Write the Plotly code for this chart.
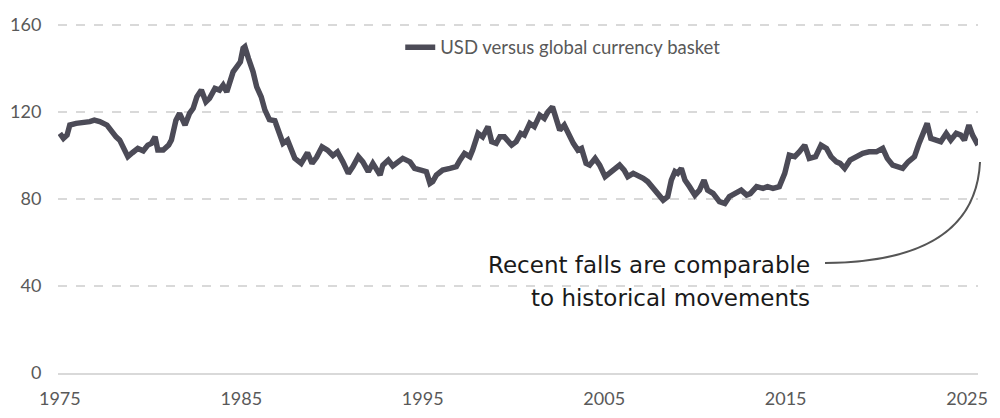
# USD broad index chart

import plotly.graph_objects as go

years = [
    1975.0, 1975.2, 1975.4, 1975.55, 1975.9, 1976.3, 1976.65, 1976.9, 1977.2, 1977.6,
    1977.85, 1978.1, 1978.3, 1978.6, 1978.75, 1979.0, 1979.3, 1979.6, 1979.85, 1980.05,
    1980.25, 1980.4, 1980.7, 1981.0, 1981.15, 1981.4, 1981.6, 1981.9, 1982.15, 1982.35,
    1982.55, 1982.8, 1983.05, 1983.25, 1983.55, 1983.8, 1984.0, 1984.2, 1984.35, 1984.55,
    1984.75, 1984.95, 1985.1, 1985.2, 1985.4, 1985.65, 1985.85, 1986.1, 1986.3, 1986.55,
    1986.85, 1987.05, 1987.3, 1987.55, 1987.75, 1987.95, 1988.3, 1988.65, 1988.9, 1989.15,
    1989.45, 1989.75, 1990.05, 1990.3, 1990.6, 1990.9, 1991.15, 1991.45, 1991.7, 1992.0,
    1992.25, 1992.65, 1992.8, 1993.1, 1993.35, 1993.65, 1993.9, 1994.3, 1994.55, 1994.9,
    1995.2, 1995.4, 1995.55, 1995.75, 1996.1, 1996.5, 1996.85, 1997.05, 1997.3, 1997.6,
    1997.75, 1998.05, 1998.3, 1998.6, 1998.8, 1999.05, 1999.25, 1999.5, 1999.9, 2000.15,
    2000.4, 2000.6, 2000.9, 2001.15, 2001.45, 2001.7, 2001.9, 2002.15, 2002.35, 2002.55,
    2002.8, 2003.1, 2003.3, 2003.55, 2003.75, 2004.0, 2004.2, 2004.5, 2004.75, 2005.05,
    2005.3, 2005.6, 2005.85, 2006.1, 2006.3, 2006.6, 2006.85, 2007.15, 2007.4, 2007.7,
    2007.95, 2008.25, 2008.5, 2008.7, 2008.9, 2009.05, 2009.25, 2009.45, 2009.7, 2010.0,
    2010.25, 2010.5, 2010.7, 2011.0, 2011.35, 2011.65, 2011.9, 2012.2, 2012.55, 2012.85,
    2013.05, 2013.4, 2013.75, 2014.0, 2014.3, 2014.65, 2014.95, 2015.2, 2015.5, 2015.75,
    2016.05, 2016.3, 2016.65, 2016.95, 2017.25, 2017.5, 2017.8, 2018.0, 2018.25, 2018.55,
    2018.9, 2019.25, 2019.6, 2020.0, 2020.35, 2020.6, 2020.9, 2021.2, 2021.45, 2021.75,
    2022.1, 2022.35, 2022.65, 2022.8, 2023.0, 2023.3, 2023.55, 2023.85, 2024.1, 2024.4,
    2024.65, 2024.85, 2025.1, 2025.3, 2025.6,
]

usd_index = [
    110.2, 107.9, 109.4, 114.0, 114.8, 115.1, 115.6, 116.3, 115.6, 114.0,
    110.9, 108.6, 107.1, 102.5, 99.5, 101.3, 103.3, 102.2, 104.8, 105.6,
    108.6, 102.5, 102.5, 104.8, 107.1, 116.3, 119.4, 114.0, 119.4, 121.7,
    127.0, 130.1, 124.7, 126.3, 130.9, 130.1, 132.4, 129.3, 133.9, 138.5,
    140.8, 143.1, 149.3, 150.0, 144.6, 138.5, 131.6, 127.0, 121.0, 116.5,
    116.0, 110.5, 105.6, 107.1, 103.0, 98.7, 96.4, 101.3, 96.4, 99.2,
    104.0, 102.5, 100.0, 101.7, 97.1, 91.8, 94.9, 99.5, 97.1, 92.6,
    96.4, 91.0, 95.6, 97.9, 95.2, 97.1, 98.7, 97.1, 94.1, 93.3,
    92.6, 87.2, 88.0, 91.0, 93.3, 94.1, 94.9, 97.9, 101.0, 99.5,
    102.5, 110.2, 108.6, 113.3, 106.4, 105.6, 108.6, 108.6, 104.8, 106.4,
    110.2, 109.4, 114.8, 113.3, 118.6, 117.1, 120.1, 122.4, 117.1, 111.7,
    114.0, 108.6, 105.6, 102.5, 103.3, 96.4, 95.6, 98.7, 95.6, 90.3,
    91.8, 94.1, 95.6, 93.3, 90.3, 91.8, 91.0, 89.5, 88.0, 84.9,
    81.8, 79.5, 81.1, 88.7, 92.6, 91.8, 94.1, 88.7, 85.7, 81.8,
    84.1, 88.7, 84.1, 82.6, 78.8, 78.0, 81.1, 82.6, 84.1, 81.8,
    82.5, 85.7, 84.9, 85.7, 84.9, 85.7, 91.8, 100.2, 99.5, 101.7,
    104.8, 98.7, 99.5, 104.8, 103.3, 99.5, 97.1, 96.4, 94.1, 97.9,
    99.5, 101.0, 101.7, 101.7, 103.3, 98.7, 95.6, 94.9, 94.1, 97.1,
    99.5, 105.6, 110.9, 114.8, 107.9, 107.1, 106.4, 110.2, 107.1, 110.2,
    109.4, 107.1, 114.0, 109.4, 104.8,
]

x_ticks = [1975, 1985, 1995, 2005, 2015, 2025]
y_ticks = [0, 40, 80, 120, 160]

line_color = '#4c4b57'
grid_color = '#d9d9d9'
tick_font = dict(family='Lato', size=18, color='#595959')

fig = go.Figure()
fig.add_trace(go.Scatter(
    x=years,
    y=usd_index,
    mode='lines',
    name='USD versus global currency basket',
    line=dict(color=line_color, width=5.5),
))

# page body keeps an 8px margin, so the figure is 16px smaller than the window
fig.update_layout(
    width=984,
    height=402,
    margin=dict(l=50, r=14, t=16, b=37),
    plot_bgcolor='white',
    paper_bgcolor='white',
    showlegend=True,
    legend=dict(
        x=0.372, y=0.932, xanchor='left', yanchor='middle',
        font=dict(family='Lato', size=18.5, color='#595959'),
        bgcolor='rgba(0,0,0,0)',
    ),
)

fig.update_xaxes(
    range=[1974.9, 2025.6],
    tickvals=x_ticks,
    showgrid=False,
    showline=True,
    linecolor=grid_color,
    linewidth=2,
    ticks='outside',
    ticklen=8,
    tickcolor='rgba(0,0,0,0)',
    tickfont=tick_font,
    automargin=False,
)
fig.update_yaxes(
    range=[0, 160.5],
    tickvals=y_ticks,
    showgrid=True,
    gridcolor=grid_color,
    gridwidth=1.5,
    griddash='dash',
    zeroline=False,
    ticks='outside',
    ticklen=12,
    tickcolor='rgba(0,0,0,0)',
    tickfont=tick_font,
    automargin=False,
)

# hand-drawn style note with a curved pointer
note_font = dict(family='DejaVu Sans', size=23, color='#1a1a1a')
fig.add_annotation(text='Recent falls are comparable', xref='paper', yref='paper',
                   x=0.8196, y=0.3094, xanchor='right', yanchor='middle',
                   showarrow=False, font=note_font)
fig.add_annotation(text='to historical movements', xref='paper', yref='paper',
                   x=0.8196, y=0.2148, xanchor='right', yanchor='middle',
                   showarrow=False, font=note_font)
fig.add_shape(type='path', xref='paper', yref='paper',
              path='M 0.8337,0.3151 Q 0.9967,0.318 1.0022,0.6044',
              line=dict(color='#555555', width=2))

fig.write_html("out.html")
